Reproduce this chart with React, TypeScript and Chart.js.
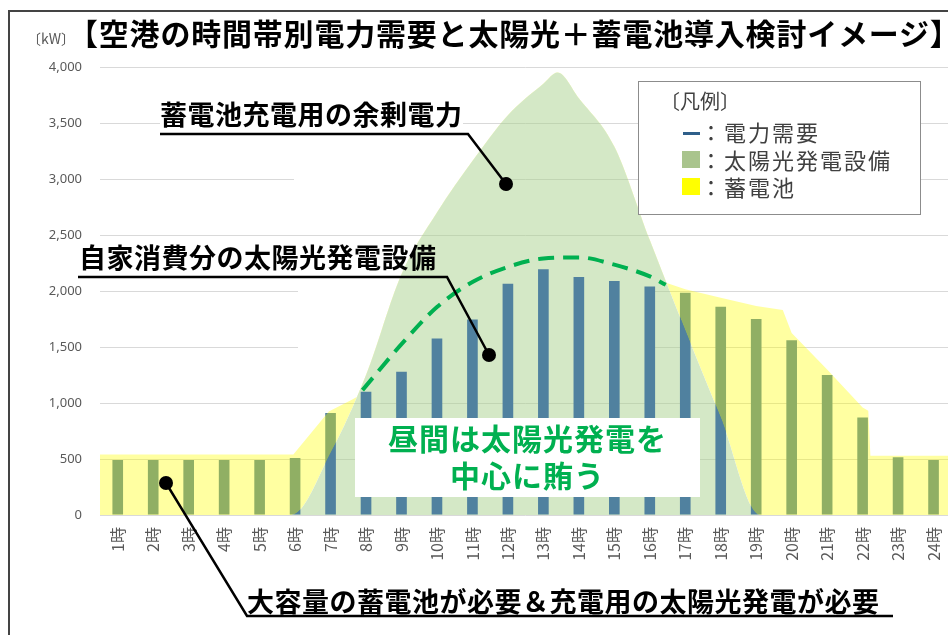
import React, { useEffect, useRef } from "react";
import { Chart, registerables } from "chart.js";

Chart.register(...registerables);

// ---- data ----
const hourLabels = [
  "1時", "2時", "3時", "4時", "5時", "6時", "7時", "8時", "9時", "10時", "11時", "12時",
  "13時", "14時", "15時", "16時", "17時", "18時", "19時", "20時", "21時", "22時", "23時", "24時",
];
// 電力需要 (kW)
const demandKw = [
  490, 490, 490, 490, 490, 510, 910, 1100, 1280, 1575, 1745, 2065,
  2195, 2125, 2090, 2040, 1985, 1860, 1750, 1560, 1250, 870, 515, 490,
];
// 太陽光発電設備 (area outline, hour -> kW)
const solarHours = [0.5, 5.9, 7, 8, 9, 10, 11, 12, 13, 13.4, 14, 15, 16, 17, 18, 19.1, 24.5];
const solarKw = [0, 0, 553, 1250, 2150, 2700, 3160, 3570, 3850, 3950, 3720, 3290, 2455, 1650, 870, 0, 0];
// 蓄電池 (upper outline of the battery area, hour -> kW)
const batteryHours = [0.5, 5.95, 6.95, 7.6, 8, 12, 16, 16.5, 17, 18, 19, 19.75, 20, 21, 22, 22.16, 22.22, 24.5];
const batteryKw = [540, 540, 925, 1030, 1100, 1500, 2000, 2070, 2015, 1940, 1865, 1830, 1625, 1300, 960, 930, 530, 530];
// 自家消費分 (dashed curve, hour -> kW)
const selfUseHours = [7.9, 9, 10, 11, 12, 13, 14, 15, 16, 16.45];
const selfUseKw = [1115, 1525, 1857, 2080, 2215, 2290, 2300, 2235, 2130, 2055];
// y axis
const yMin = 0;
const yMax = 4000;
const yStep = 500;

const toPoints = (xs: number[], ys: number[]) => xs.map((x, i) => ({ x, y: ys[i] }));

const JP = '"Noto Sans CJK JP", "Noto Sans CJK SC", sans-serif';

// white patches of the original slide that hide some gridlines (drawn under the areas)
const gridMask = {
  id: "gridMask",
  beforeDatasetsDraw(chart: any) {
    const ctx = chart.ctx as CanvasRenderingContext2D;
    ctx.save();
    ctx.fillStyle = "#ffffff";
    ctx.fillRect(294, 150, 211, 50);
    ctx.fillRect(298, 284, 357, 112);
    ctx.restore();
  },
};

export default function App() {
  const canvasRef = useRef<HTMLCanvasElement | null>(null);

  useEffect(() => {
    document.body.style.margin = "0";
    const canvas = canvasRef.current;
    if (!canvas) return;
    const chart = new Chart(canvas, {
      type: "bar",
      data: {
        labels: hourLabels,
        datasets: [
          {
            type: "bar",
            label: "電力需要",
            data: demandKw,
            backgroundColor: "#50819f",
            categoryPercentage: 1,
            barPercentage: 0.3,
            grouped: false,
            xAxisID: "x",
            yAxisID: "y",
            order: 2,
          } as any,
          {
            type: "line",
            label: "太陽光発電設備",
            data: toPoints(solarHours, solarKw),
            xAxisID: "xl",
            yAxisID: "y",
            borderWidth: 0,
            borderColor: "rgba(0,0,0,0)",
            pointRadius: 0,
            cubicInterpolationMode: "monotone",
            fill: "origin",
            backgroundColor: "rgba(169,209,142,0.5)",
            order: 3,
          } as any,
          {
            type: "line",
            label: "蓄電池",
            data: toPoints(batteryHours, batteryKw),
            xAxisID: "xl",
            yAxisID: "y",
            borderWidth: 0,
            borderColor: "rgba(0,0,0,0)",
            pointRadius: 0,
            fill: { target: 1, above: "rgba(255,255,0,0.37)", below: "rgba(0,0,0,0)" },
            order: 1,
          } as any,
          {
            type: "line",
            label: "自家消費分",
            data: toPoints(selfUseHours, selfUseKw),
            xAxisID: "xl",
            yAxisID: "y",
            borderColor: "#00b050",
            borderWidth: 4,
            borderDash: [16, 9],
            pointRadius: 0,
            cubicInterpolationMode: "monotone",
            fill: false,
            order: 0,
          } as any,
        ],
      },
      options: {
        animation: false,
        responsive: false,
        devicePixelRatio: 1,
        events: [],
        layout: { padding: { top: 67, right: 12, bottom: 0, left: 0 } },
        plugins: {
          legend: { display: false },
          tooltip: { enabled: false },
          title: { display: false },
        },
        scales: {
          x: {
            type: "category",
            offset: true,
            grid: { display: false, drawTicks: false },
            border: { display: false },
            ticks: {
              autoSkip: false,
              minRotation: 90,
              maxRotation: 90,
              padding: 12,
              color: "#595959",
              font: { family: JP, size: 16 },
            },
            afterFit: (s: any) => {
              s.height = 120;
            },
          },
          xl: { type: "linear", display: false, offset: false, min: 0.5, max: 24.5, grid: { offset: false } },
          y: {
            min: yMin,
            max: yMax,
            grid: { color: "#d9d9d9", drawTicks: false, lineWidth: 1 },
            border: { display: false },
            ticks: {
              stepSize: yStep,
              padding: 18,
              color: "#595959",
              font: { family: '"Noto Sans", sans-serif', size: 13 },
              callback: (v: any) => Number(v).toLocaleString("en-US"),
            },
            afterFit: (s: any) => {
              s.width = 100;
            },
          },
        },
      } as any,
      plugins: [gridMask as any],
    });
    return () => chart.destroy();
  }, []);

  const abs = (o: React.CSSProperties): React.CSSProperties => ({ position: "absolute", whiteSpace: "nowrap", ...o });
  const annFont: React.CSSProperties = { fontFamily: JP, fontWeight: 700, fontSize: 27, lineHeight: "27px", letterSpacing: 0.5, color: "#000" };
  const legText: React.CSSProperties = { fontFamily: JP, fontSize: 22, lineHeight: "22px", letterSpacing: 2, color: "#404040" };

  return (
    <div style={{ position: "relative", width: 948, height: 635, overflow: "hidden", background: "#fff" }}>
      <canvas ref={canvasRef} width={965} height={635} style={{ position: "absolute", left: 0, top: 0, width: 965, height: 635 }} />

      {/* frame */}
      <div style={abs({ left: 8, top: 10, width: 960, height: 640, borderLeft: "2px solid #444", borderTop: "2px solid #444" })} />

      {/* title */}
      <div style={abs({ left: 27, top: 31, fontFamily: JP, fontSize: 14, lineHeight: "14px", color: "#595959" })}>〔kW〕</div>
      <div style={abs({ left: 68, top: 17, fontFamily: JP, fontWeight: 700, fontSize: 30, lineHeight: "30px", letterSpacing: 0.8, color: "#000" })}>
        【空港の時間帯別電力需要と太陽光＋蓄電池導入検討イメージ】
      </div>

      {/* annotations */}
      <div style={abs({ left: 160, top: 100, background: "#fff", ...annFont })}>蓄電池充電用の余剰電力</div>
      <div style={abs({ left: 79, top: 243, ...annFont })}>自家消費分の太陽光発電設備</div>
      <div style={abs({ left: 247, top: 587, ...annFont })}>大容量の蓄電池が必要＆充電用の太陽光発電が必要</div>

      <svg width={948} height={635} style={{ position: "absolute", left: 0, top: 0 }}>
        <polyline points="160,134 468,134 506,184" fill="none" stroke="#000" strokeWidth={2.5} />
        <circle cx={506} cy={184} r={7} fill="#000" />
        <polyline points="78,277 447,277 489,355" fill="none" stroke="#000" strokeWidth={2.5} />
        <circle cx={489} cy={355} r={7} fill="#000" />
        <polyline points="166,483 247,616 893,616" fill="none" stroke="#000" strokeWidth={2.5} />
        <circle cx={166} cy={483} r={7} fill="#000" />
      </svg>

      {/* centre message */}
      <div
        style={abs({
          left: 355, top: 418, width: 345, height: 79, background: "#fff", textAlign: "center",
          fontFamily: JP, fontWeight: 700, fontSize: 30, lineHeight: "37px", letterSpacing: 1, color: "#00b050", paddingTop: 1, boxSizing: "border-box",
        })}
      >
        昼間は太陽光発電を<br />中心に賄う
      </div>

      {/* legend */}
      <div style={abs({ left: 638, top: 81, width: 283, height: 134, boxSizing: "border-box", border: "1.5px solid #8c8c8c", background: "#fff" })} />
      <div style={abs({ left: 660, top: 91, fontFamily: JP, fontSize: 20, lineHeight: "20px", color: "#404040" })}>〔凡例〕</div>
      <div style={abs({ left: 683, top: 132, width: 17, height: 3, background: "#2f5f8a" })} />
      <div style={abs({ left: 700, top: 120, ...legText })}>：電力需要</div>
      <div style={abs({ left: 682, top: 151, width: 18, height: 17, background: "#a9c48d" })} />
      <div style={abs({ left: 700, top: 148, ...legText })}>：太陽光発電設備</div>
      <div style={abs({ left: 682, top: 178, width: 18, height: 17, background: "#ffff00" })} />
      <div style={abs({ left: 700, top: 175, ...legText })}>：蓄電池</div>
    </div>
  );
}
